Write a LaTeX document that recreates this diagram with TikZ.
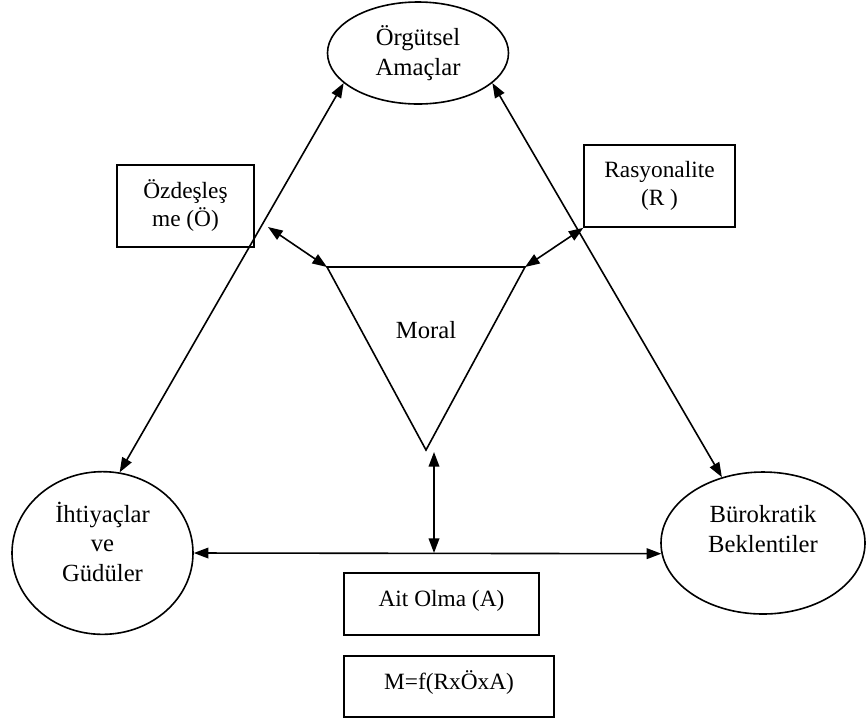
\documentclass[tikz,border=0pt]{standalone}
\usepackage{fontspec}
\setmainfont{Liberation Serif}
\usetikzlibrary{shapes.geometric,arrows.meta}
\tikzset{
	yazi/.style={font=\fontsize{17.5}{21}\selectfont, align=center},
	buyukyazi/.style={font=\fontsize{18.5}{22}\selectfont, align=center},
	elips/.style={buyukyazi, draw, ellipse, line width=1.2pt, inner sep=0pt},
	kutu/.style={yazi, draw, rectangle, line width=1.2pt, inner sep=0pt},
	cift/.style={{Triangle[length=11pt,width=8pt]}-{Triangle[length=11pt,width=8pt]}, line width=1.2pt}
}
\begin{document}
\begin{tikzpicture}[x=0.75pt,y=-0.75pt]
	\useasboundingbox (0,0) rectangle (866,719);
	\node [elips, minimum width=135.75pt, minimum height=76.5pt] (orgut) at (418,53) {Örgütsel\\Amaçlar};
	\node [elips, minimum width=135.75pt, minimum height=122pt, text depth=17pt] (ihtiyac) at (102.5,553) {İhtiyaçlar\\ve\\Güdüler};
	\node [elips, minimum width=153pt, minimum height=106.5pt, text depth=21pt] (burokratik) at (763,543) {Bürokratik\\Beklentiler};
	\node [kutu, minimum width=102.75pt, minimum height=61.5pt] (ozdes) at (185.5,206) {Özdeşleş\\me (Ö)};
	\node [kutu, minimum width=113pt, minimum height=61.5pt] (rasyon) at (659.5,186) {Rasyonalite\\(R )};
	\node [kutu, minimum width=146pt, minimum height=46.5pt, text depth=9pt] (aitolma) at (441.5,604) {Ait Olma (A)};
	\node [kutu, minimum width=157.5pt, minimum height=45.75pt, text depth=10pt] (formul) at (449,686.5) {M=f(RxÖxA)};
	\coordinate (ucsol) at (327,267);
	\coordinate (ucsag) at (525,267);
	\coordinate (ucalt) at (426,450);
	\draw [line width=1.2pt] (ucsol) -- (ucsag) -- (ucalt) -- cycle;
	\node [buyukyazi] (moral) at (426,330) {Moral};
	\coordinate (ozok) at (268,227);
	\coordinate (moralok) at (434,452);
	\coordinate (kesisim) at (434,553);
	\draw [cift] (ihtiyac.78) -- (orgut.202);
	\draw [cift] (orgut.338) -- (burokratik.122);
	\draw [cift] (ihtiyac.east) -- (burokratik.186);
	\draw [cift] (moralok) -- (kesisim);
	\draw [cift] (ozok) -- (ucsol);
	\draw [cift] (rasyon.south west) -- (ucsag);
\end{tikzpicture}
\end{document}
